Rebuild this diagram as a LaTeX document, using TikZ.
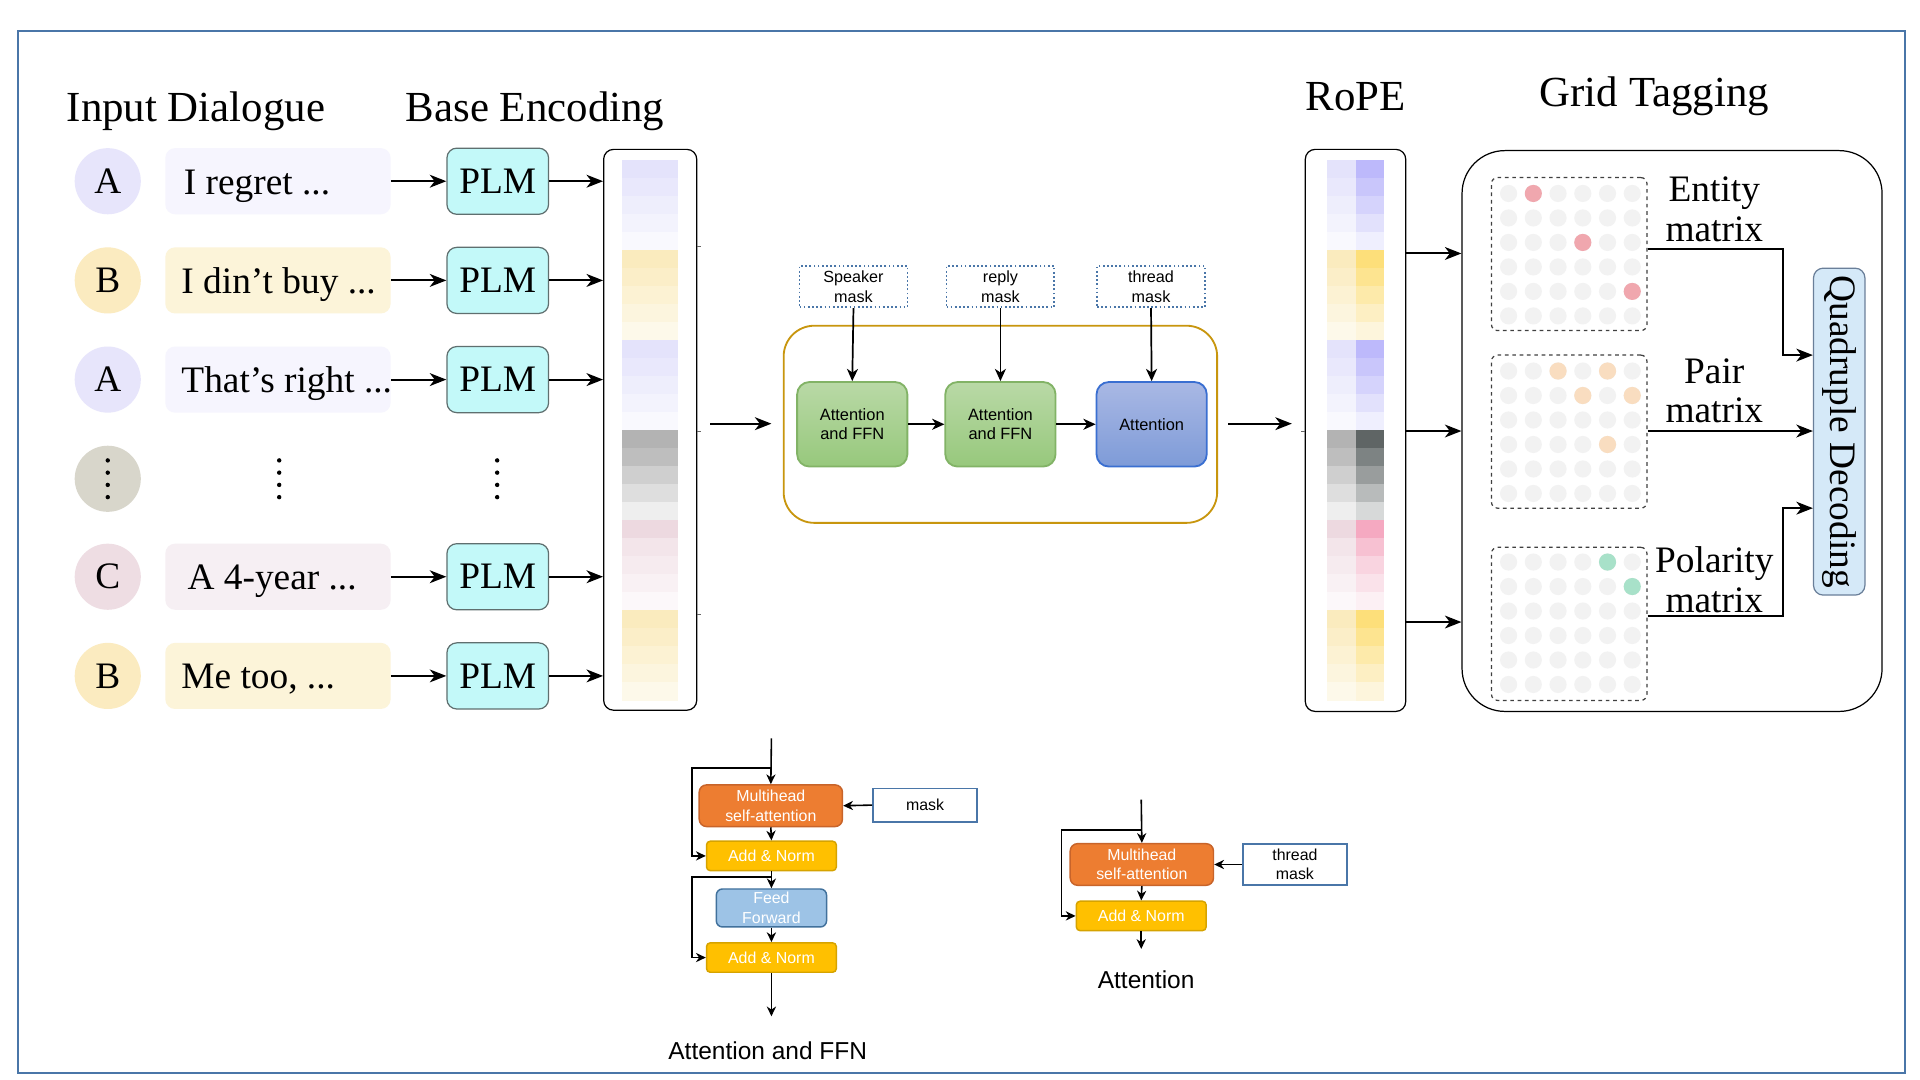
\documentclass[tikz,border=0pt]{standalone}
\usepackage{fontspec}
\setmainfont{Liberation Serif}
\newfontfamily\sansf{Liberation Sans}
\usetikzlibrary{arrows.meta}
\definecolor{frameblue}{HTML}{4A76A8}
\definecolor{spkA}{HTML}{E7E5FB}
\definecolor{spkB}{HTML}{FBEBC0}
\definecolor{spkC}{HTML}{EEDDE3}
\definecolor{spkD}{HTML}{D8D6CB}
\definecolor{uttA}{HTML}{F6F5FE}
\definecolor{uttB}{HTML}{FCF4D9}
\definecolor{uttC}{HTML}{F6EFF3}
\definecolor{plmfill}{HTML}{C3F9F9}
\definecolor{plmedge}{HTML}{5F6F6F}
\definecolor{contedge}{HTML}{C8960E}
\definecolor{gtop}{HTML}{B9D9A6}
\definecolor{gbot}{HTML}{97C87C}
\definecolor{gedge}{HTML}{82B366}
\definecolor{btop}{HTML}{A9B8E4}
\definecolor{bbot}{HTML}{7E9BD8}
\definecolor{bedge}{HTML}{3A6FD1}
\definecolor{dotgray}{HTML}{F2F2F2}
\definecolor{dotred}{HTML}{F0A7AE}
\definecolor{dotorange}{HTML}{F9DDC0}
\definecolor{dotgreen}{HTML}{A8E1C9}
\definecolor{quadfill}{HTML}{D5E9F8}
\definecolor{quadedge}{HTML}{6A7F99}
\definecolor{mhafill}{HTML}{ED7D31}
\definecolor{mhaedge}{HTML}{C8642A}
\definecolor{anfill}{HTML}{FFC000}
\definecolor{anedge}{HTML}{D6A300}
\definecolor{fffill}{HTML}{9DC3E6}
\definecolor{ffedge}{HTML}{41719C}
\tikzset{
  frame/.style={draw=frameblue, line width=1.5pt},
  title/.style={font=\fontsize{35}{40}\selectfont, inner sep=0},
  body/.style={font=\fontsize{30.5}{32}\selectfont},
  spk/.style={circle, minimum size=54pt, inner sep=0, body},
  utt/.style={rounded corners=8pt, minimum width=184pt, minimum height=54pt, inner sep=0},
  plm/.style={draw=plmedge, line width=1pt, fill=plmfill, rounded corners=8pt, minimum width=83pt, minimum height=54pt, inner sep=0, body},
  arr/.style={-{Stealth[length=13.5pt,width=10.5pt,inset=4pt]}, line width=1.6pt},
  marr/.style={-{Stealth[length=10pt,width=9pt,inset=3pt]}, line width=1.4pt},
  sarr/.style={-{Stealth[length=8pt,width=7.5pt,inset=2.5pt]}, line width=1.3pt},
  colbox/.style={draw=black, line width=1pt, rounded corners=8pt, inner sep=0},
  maskbox/.style={draw=frameblue, dotted, line width=1.4pt, minimum width=88pt, minimum height=34pt, inner sep=0, align=center, font=\sansf\fontsize{13.2}{16}\selectfont},
  blockg/.style={rounded corners=10pt, draw=gedge, line width=1.5pt, top color=gtop, bottom color=gbot, minimum width=90pt, minimum height=69pt, inner sep=0, align=center, font=\sansf\fontsize{13.4}{15.5}\selectfont},
  blockb/.style={blockg, draw=bedge, top color=btop, bottom color=bbot},
  matbox/.style={draw=black!75, dashed, line width=1pt, rounded corners=5pt, minimum width=127pt, minimum height=125pt, inner sep=0},
  smallw/.style={font=\sansf\fontsize{13}{16}\selectfont, text=white, align=center, inner sep=0},
  mha/.style={smallw, fill=mhafill, draw=mhaedge, line width=1.2pt, rounded corners=6pt, minimum width=117pt, minimum height=34pt},
  anb/.style={smallw, fill=anfill, draw=anedge, line width=1.2pt, rounded corners=3pt, minimum width=106pt, minimum height=24pt},
  ffb/.style={smallw, fill=fffill, draw=ffedge, line width=1.2pt, rounded corners=5pt, minimum width=90pt, minimum height=31pt},
  mbox/.style={draw=frameblue, line width=1.5pt, fill=white, inner sep=0, align=center, font=\sansf\fontsize{13}{16}\selectfont},
  capt/.style={font=\sansf\fontsize{20}{24}\selectfont, inner sep=0},
}
\begin{document}
\begin{tikzpicture}[x=1pt,y=-1pt]
\useasboundingbox (0,0) rectangle (1568,882);
\fill[white] (0,0) rectangle (1568,882);
\draw[frame] (15,25) rectangle (1556,876);

% titles
\node[title] (ttl1) at (160,91) {Input Dialogue};
\node[title] (ttl2) at (437,91) {Base Encoding};
\node[title] (ttl3) at (1107,79) {RoPE};
\node[title] (ttl4) at (1351,79) {Grid Tagging};

% base encoding column
\node[colbox, minimum width=76pt, minimum height=458pt] (enc) at (531,351) {};
\foreach \c [count=\i from 0] in {E4E3FB,E9E8FC,EEEEFC,F3F3FD,F9F9FE,FAEBBE,FBEEC8,FCF2D3,FCF5DE,FDF9EA,E4E3FB,E9E8FC,EEEEFC,F3F3FD,F9F9FE,B3B3B3,BEBEBE,CFCFCF,DEDEDE,EEEEEE,EDD9E0,F3E5EA,F6EBEF,F9F1F4,FCF8FA,FAEBBE,FBEEC8,FCF2D3,FCF5DE,FDF9EA}{
  \definecolor{tmpc}{HTML}{\c}
  \fill[tmpc] (508,{131+\i*14.7}) rectangle (554,{131+(\i+1)*14.7+0.3});
}
\foreach \yy in {201,352,502}{\draw[line width=0.8pt, black!60] (enc.east |- 0,\yy) -- ++(3,0);}

% dialogue rows
\foreach \i/\yr/\l/\cc/\uc/\tx/\t in {1/148/A/spkA/uttA/150/{I regret ...},2/229/B/spkB/uttB/148/{I din’t buy ...},3/310/A/spkA/uttA/148/{That’s right ...},5/471/C/spkC/uttC/153/{A 4-year ...},6/552/B/spkB/uttB/148/{Me too, ...}}{
  \node[spk, fill=\cc] (s\i) at (88,\yr) {\l};
  \node[utt, fill=\uc] (u\i) at (227,\yr) {};
  \node[body, anchor=base west, inner sep=0] (t\i) at (\tx,{\yr+10.5}) {\t};
  \node[plm] (p\i) at (406.5,\yr) {PLM};
  \draw[arr] (u\i.east) -- (p\i.west);
  \draw[arr] (p\i.east) -- (p\i.east -| enc.west);
}
\node[spk, fill=spkD] (s4) at (88,391) {};
\foreach \x in {88,228,406}{\foreach \k in {0,...,3}{\fill ({\x},{376+\k*10}) circle (1.8);}}

% attention container
\node[draw=contedge, line width=1.5pt, rounded corners=25pt, minimum width=354pt, minimum height=161pt, inner sep=0] (cont) at (817,346.5) {};
\node[maskbox] (m1) at (697,234) {Speaker\\mask};
\node[maskbox] (m2) at (817,234) {reply\\mask};
\node[maskbox] (m3) at (940,234) {thread\\mask};
\node[blockg] (af1) at (696,346.5) {Attention\\and FFN};
\node[blockg] (af2) at (817,346.5) {Attention\\and FFN};
\node[blockb] (att) at (940.5,346.5) {Attention};
\draw[marr] (m1.south) -- (af1.north);
\draw[marr] (m2.south) -- (af2.north);
\draw[marr] (m3.south) -- (att.north);
\draw[marr] (af1.east) -- (af2.west);
\draw[marr] (af2.east) -- (att.west);
\coordinate (a0) at (580,346);
\coordinate (a1) at (630,346);
\draw[arr] (a0) -- (a1);
\coordinate (b0) at (1003,346);
\coordinate (b1) at (1055,346);
\draw[arr] (b0) -- (b1);

% RoPE column
\node[colbox, minimum width=82pt, minimum height=459pt] (rope) at (1107,351.5) {};
\foreach \c [count=\i from 0] in {E4E3FB,E9E8FC,EEEEFC,F3F3FD,F9F9FE,FAEBBE,FBEEC8,FCF2D3,FCF5DE,FDF9EA,E4E3FB,E9E8FC,EEEEFC,F3F3FD,F9F9FE,B3B3B3,BEBEBE,CFCFCF,DEDEDE,EEEEEE,EDD9E0,F3E5EA,F6EBEF,F9F1F4,FCF8FA,FAEBBE,FBEEC8,FCF2D3,FCF5DE,FDF9EA}{
  \definecolor{tmpc}{HTML}{\c}
  \fill[tmpc] (1084,{131+\i*14.7}) rectangle (1107.3,{131+(\i+1)*14.7+0.3});
}
\foreach \c [count=\i from 0] in {BDB9FB,C9C6FB,D5D3FC,E2E1FC,EFEFFE,FDDF7A,FDE490,FDEAAA,FDEFC3,FDF5DC,BDB9FB,C9C6FB,D5D3FC,E2E1FC,EFEFFE,5F6565,7D8383,999D9D,B8BBBB,D7D9D9,F5A9C1,F7C1D2,F9D4E0,FAE2EA,FCF0F4,FDDF7A,FDE490,FDEAAA,FDEFC3,FDF5DC}{
  \definecolor{tmpc}{HTML}{\c}
  \fill[tmpc] (1107,{131+\i*14.7}) rectangle (1130,{131+(\i+1)*14.7+0.3});
}
\draw[line width=0.8pt, black!60] (rope.west |- 0,352) -- ++(-3,0);

% grid tagging
\node[colbox, rounded corners=35pt, minimum width=343pt, minimum height=458pt] (grid) at (1365.5,352) {};
\foreach \yy in {207,352,508}{\draw[arr] (rope.east |- 0,\yy) -- (grid.west |- 0,\yy);}
\node[matbox] (mat1) at (1281.5,207.5) {};
\node[matbox] (mat2) at (1281.5,352.5) {};
\node[matbox] (mat3) at (1281.5,509.5) {};
\foreach \yb in {158,303,459}{
  \foreach \r in {0,...,5}{\foreach \c in {0,...,5}{
    \fill[dotgray] ({1232+\c*20.2},{\yb+\r*20}) circle (7);}}}
\foreach \r/\c in {0/1,2/3,4/5}{\fill[dotred] ({1232+\c*20.2},{158+\r*20}) circle (7);}
\foreach \r/\c in {0/2,0/4,1/3,1/5,3/4}{\fill[dotorange] ({1232+\c*20.2},{303+\r*20}) circle (7);}
\foreach \r/\c in {0/4,1/5}{\fill[dotgreen] ({1232+\c*20.2},{459+\r*20}) circle (7);}
\node[body, align=center, inner sep=0] (lab1) at (1400,171) {Entity\\matrix};
\node[body, align=center, inner sep=0] (lab2) at (1400,319.5) {Pair\\matrix};
\node[body, align=center, inner sep=0] (lab3) at (1400,473.5) {Polarity\\matrix};
\node[draw=quadedge, fill=quadfill, line width=1pt, rounded corners=8pt, minimum width=42pt, minimum height=267pt, inner sep=0] (quad) at (1502,352.5) {};
\node[body, rotate=-90, inner sep=0] (quadt) at (quad.center) {Quadruple Decoding};
\coordinate (j1) at (1456,203);
\coordinate (j3) at (1456,503);
\draw[arr] (mat1.east |- 0,203) -- (j1) |- (quad.west |- 0,290);
\draw[arr] (mat2.east |- 0,352) -- (quad.west |- 0,352);
\draw[arr] (mat3.east |- 0,503) -- (j3) |- (quad.west |- 0,415);

% bottom left: Attention and FFN
\node[mha] (mha1) at (629.5,658) {Multihead\\self-attention};
\node[mbox, minimum width=85pt, minimum height=27pt] (mk1) at (755.5,657.5) {mask};
\node[anb] (an1) at (630,699) {Add \& Norm};
\node[ffb] (ff1) at (630,741.5) {Feed\\Forward};
\node[anb] (an2) at (630,782) {Add \& Norm};
\coordinate (in1) at (630,603);
\coordinate (out1) at (630,830);
\coordinate (br1) at (630,627);
\coordinate (lb1) at (565,627);
\coordinate (br2) at (630,716);
\coordinate (lb2) at (565,716);
\draw[sarr] (in1) -- (mha1.north);
\draw[sarr] (br1) -- (lb1) |- (an1.west);
\draw[sarr] (mk1.west) -- (mha1.east);
\draw[sarr] (mha1.south) -- (an1.north);
\draw[sarr] (an1.south) -- (ff1.north);
\draw[sarr] (br2) -- (lb2) |- (an2.west);
\draw[sarr] (ff1.south) -- (an2.north);
\draw[sarr] (an2.south) -- (out1);
\node[capt] (cap1) at (627,858) {Attention and FFN};

% bottom right: Attention
\node[mha] (mha2) at (932.5,706) {Multihead\\self-attention};
\node[mbox, minimum width=85pt, minimum height=34pt] (mk2) at (1057.5,706) {thread\\mask};
\node[anb] (an3) at (932,748) {Add \& Norm};
\coordinate (in2) at (932,653);
\coordinate (br3) at (932,678);
\coordinate (lb3) at (867,678);
\coordinate (out2) at (932,775);
\draw[sarr] (in2) -- (mha2.north);
\draw[sarr] (br3) -- (lb3) |- (an3.west);
\draw[sarr] (mk2.west) -- (mha2.east);
\draw[sarr] (mha2.south) -- (an3.north);
\draw[sarr] (an3.south) -- (out2);
\node[capt] (cap2) at (936,800) {Attention};
\end{tikzpicture}
\end{document}
